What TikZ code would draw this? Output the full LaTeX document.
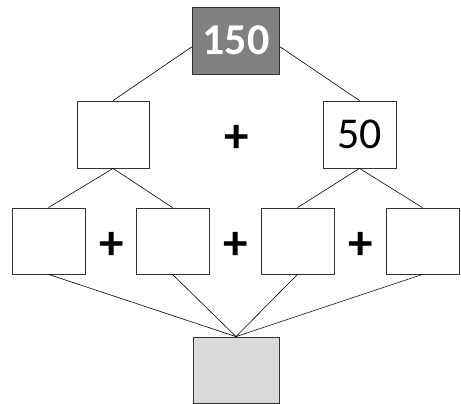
\documentclass[tikz,border=0pt]{standalone}
\usepackage{fontspec}
\setmainfont{Carlito}
\definecolor{topgray}{gray}{0.5}
\definecolor{botgray}{gray}{0.85}

\begin{document}
\begin{tikzpicture}[x=1pt, y=-1pt,
    box/.style={draw=black!80, line width=0.8pt, rectangle, inner sep=0pt, minimum width=73pt, minimum height=66pt, font=\fontsize{44}{48}\selectfont},
    plus/.style={font=\fontsize{49}{52}\selectfont\bfseries, inner sep=0pt},
    link/.style={line width=0.6pt}]
        \useasboundingbox (0, 0) rectangle (461, 404);
        \node[box, fill=topgray, minimum width=87pt, minimum height=67pt, text=white, font=\fontsize{44}{48}\selectfont\bfseries] (top) at (236, 40.5) {150};
        \node[box, minimum width=72pt, minimum height=67pt] (l) at (113, 134.5) {};
        \node[box, minimum height=67pt] (r) at (359.5, 134.5) {50};
        \node[box] (1) at (48.5, 241) {};
        \node[box] (2) at (172.5, 241) {};
        \node[box] (3) at (297.5, 241) {};
        \node[box] (4) at (422.5, 241) {};
        \node[box, fill=botgray, minimum width=86pt] (bot) at (236, 370) {};
        \node[plus] (p0) at (237, 139) {+};
        \node[plus] (p1) at (112, 246) {+};
        \node[plus] (p2) at (236, 246) {+};
        \node[plus] (p3) at (361, 246) {+};
        \draw[link] (top.188) -- (l.north);
        \draw[link] (top.-8) -- (r.north);
        \draw[link] (l.south) -- (1.north);
        \draw[link] (l.south) -- (2.north);
        \draw[link] (r.south) -- (3.north);
        \draw[link] (r.south) -- (4.north);
        \foreach \i in {1,...,4}
            \draw[link] (\i.south) -- (bot.north);
      \end{tikzpicture}
\end{document}
